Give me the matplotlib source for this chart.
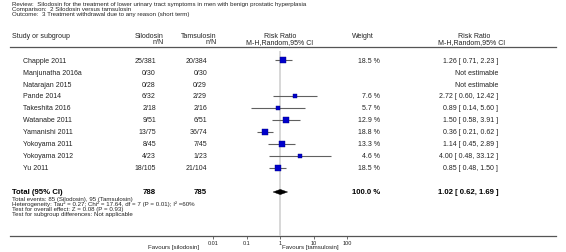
import matplotlib
matplotlib.use("Agg")
import matplotlib.pyplot as plt
from matplotlib.patches import Polygon
import numpy as np

plt.rcParams['font.family'] = ['Liberation Sans', 'DejaVu Sans']

# ---------------- data ----------------
review = "Review:  Silodosin for the treatment of lower urinary tract symptoms in men with benign prostatic hyperplasia"
comparison = "Comparison:  2 Silodosin versus tamsulosin"
outcome = "Outcome:  3 Treatment withdrawal due to any reason (short term)"

studies = ["Chapple 2011", "Manjunatha 2016a", "Natarajan 2015", "Pande 2014", "Takeshita 2016",
           "Watanabe 2011", "Yamanishi 2011", "Yokoyama 2011", "Yokoyama 2012", "Yu 2011"]
silo_events = [25, 0, 0, 6, 2, 9, 13, 8, 4, 18]
silo_total = [381, 30, 28, 32, 18, 51, 75, 45, 23, 105]
tams_events = [20, 0, 0, 2, 2, 6, 36, 7, 1, 21]
tams_total = [384, 30, 29, 29, 16, 51, 74, 45, 23, 104]
weights = [18.5, None, None, 7.6, 5.7, 12.9, 18.8, 13.3, 4.6, 18.5]
rr = [1.26, None, None, 2.72, 0.89, 1.50, 0.36, 1.14, 4.00, 0.85]
ci_lo = [0.71, None, None, 0.60, 0.14, 0.58, 0.21, 0.45, 0.48, 0.48]
ci_hi = [2.23, None, None, 12.42, 5.60, 3.91, 0.62, 2.89, 33.12, 1.50]

total_silo = 788
total_tams = 785
total_weight = 100.0
total_rr = 1.02
total_lo = 0.62
total_hi = 1.69

footer = ["Total events: 85 (Silodosin), 95 (Tamsulosin)",
          "Heterogeneity: Tau\u00b2 = 0.27; Chi\u00b2 = 17.64, df = 7 (P = 0.01); I\u00b2 =60%",
          "Test for overall effect: Z = 0.08 (P = 0.93)",
          "Test for subgroup differences: Not applicable"]

ticks = [0.01, 0.1, 1, 10, 100]
tick_labels = ["0.01", "0.1", "1", "10", "100"]
favours_left = "Favours [silodosin]"
favours_right = "Favours [tamsulosin]"

# ---------------- layout ----------------
W, H = 566, 253
fig = plt.figure(figsize=(W / 100, H / 100), dpi=100)
fig.patch.set_facecolor('white')
bg = fig.add_axes([0, 0, 1, 1])
bg.set_xlim(0, W)
bg.set_ylim(H, 0)
bg.axis('off')

fs = 5.0
fs_small = 4.4
fs_axis = 4.0
tc = '#222222'

# header block
for i, t in enumerate([review, comparison, outcome]):
    bg.text(12, 4.8 + 4.8 * i, t, fontsize=fs_small, ha='left', va='center', color=tc)

hy1, hy2 = 36.5, 42.5
bg.text(12, hy1, "Study or subgroup", fontsize=fs, ha='left', va='center', color=tc)
bg.text(164, hy1, "Silodosin", fontsize=fs, ha='right', va='center', color=tc)
bg.text(164, hy2, "n/N", fontsize=fs, ha='right', va='center', color=tc)
bg.text(217, hy1, "Tamsulosin", fontsize=fs, ha='right', va='center', color=tc)
bg.text(217, hy2, "n/N", fontsize=fs, ha='right', va='center', color=tc)
bg.text(280, hy1, "Risk Ratio", fontsize=fs, ha='center', va='center', color=tc)
bg.text(280, hy2, "M-H,Random,95% CI", fontsize=fs, ha='center', va='center', color=tc)
bg.text(363, hy1, "Weight", fontsize=fs, ha='center', va='center', color=tc)
bg.text(474, hy1, "Risk Ratio", fontsize=fs, ha='center', va='center', color=tc)
bg.text(472, hy2, "M-H,Random,95% CI", fontsize=fs, ha='center', va='center', color=tc)
bg.plot([10, 556], [48, 48], color='#555555', lw=0.9)
bg.plot([10, 556], [237, 237], color='#555555', lw=0.9)

row_y = [61 + 12 * i for i in range(len(studies))]
total_y = 193

for i, s in enumerate(studies):
    y = row_y[i]
    bg.text(23, y, s, fontsize=fs, ha='left', va='center', color=tc)
    bg.text(156, y, f"{silo_events[i]}/{silo_total[i]}", fontsize=fs, ha='right', va='center', color=tc)
    bg.text(207, y, f"{tams_events[i]}/{tams_total[i]}", fontsize=fs, ha='right', va='center', color=tc)
    if rr[i] is None:
        bg.text(498, y, "Not estimable", fontsize=fs, ha='right', va='center', color=tc)
    else:
        bg.text(380, y, f"{weights[i]:.1f} %", fontsize=fs, ha='right', va='center', color=tc)
        bg.text(498, y, f"{rr[i]:.2f} [ {ci_lo[i]:.2f}, {ci_hi[i]:.2f} ]", fontsize=fs,
                ha='right', va='center', color=tc)

fsb = 5.6
bg.text(12, total_y, "Total (95% CI)", fontsize=fsb, weight='bold', ha='left', va='center', color='black')
bg.text(156, total_y, f"{total_silo}", fontsize=fsb, weight='bold', ha='right', va='center', color='black')
bg.text(207, total_y, f"{total_tams}", fontsize=fsb, weight='bold', ha='right', va='center', color='black')
bg.text(380, total_y, f"{total_weight:.1f} %", fontsize=fsb, weight='bold', ha='right', va='center', color='black')
bg.text(498, total_y, f"{total_rr:.2f} [ {total_lo:.2f}, {total_hi:.2f} ]", fontsize=fsb, weight='bold',
        ha='right', va='center', color='black')

for i, t in enumerate(footer):
    bg.text(12, 199.5 + 5.0 * i, t, fontsize=fs_small, ha='left', va='center', color=tc)

# ---------------- forest axes ----------------
x0, x1 = 213, 347
ytop, ybot = 52, 237
fx = fig.add_axes([x0 / W, (H - ybot) / H, (x1 - x0) / W, (ybot - ytop) / H])
fx.set_xscale('log')
fx.set_xlim(ticks[0], ticks[-1])
fx.set_ylim(ybot, ytop)
fx.patch.set_alpha(0)
for sp in fx.spines.values():
    sp.set_visible(False)
fx.set_yticks([])
fx.set_xticks(ticks)
fx.set_xticklabels(tick_labels)
fx.xaxis.set_minor_locator(matplotlib.ticker.NullLocator())
fx.tick_params(axis='x', length=2.2, width=0.6, color='#555555', labelsize=fs_axis, pad=0.4,
               labelcolor=tc)
fx.axvline(1, color='#d4d4d4', lw=1.3, zorder=0)

wmax = 18.5
for i in range(len(studies)):
    if rr[i] is None:
        continue
    y = row_y[i]
    fx.plot([ci_lo[i], ci_hi[i]], [y, y], color='#606060', lw=0.8, zorder=2, solid_capstyle='butt')
    side_px = 6.2 * np.sqrt(weights[i] / wmax)
    fx.plot(rr[i], y, marker='s', ms=side_px * 0.72, mfc='#0000cc', mec='#000080', mew=0.3,
            linestyle='none', zorder=3)

dh = 2.6
fx.add_patch(Polygon([(total_lo, total_y), (total_rr, total_y - dh), (total_hi, total_y),
                      (total_rr, total_y + dh)], closed=True, facecolor='black', edgecolor='black',
                     lw=0.3, zorder=3))

bg.text(199, 248, favours_left, fontsize=fs_small, ha='right', va='center', color=tc)
bg.text(282, 248, favours_right, fontsize=fs_small, ha='left', va='center', color=tc)

fig.savefig("out.png", dpi=100, facecolor='white')
